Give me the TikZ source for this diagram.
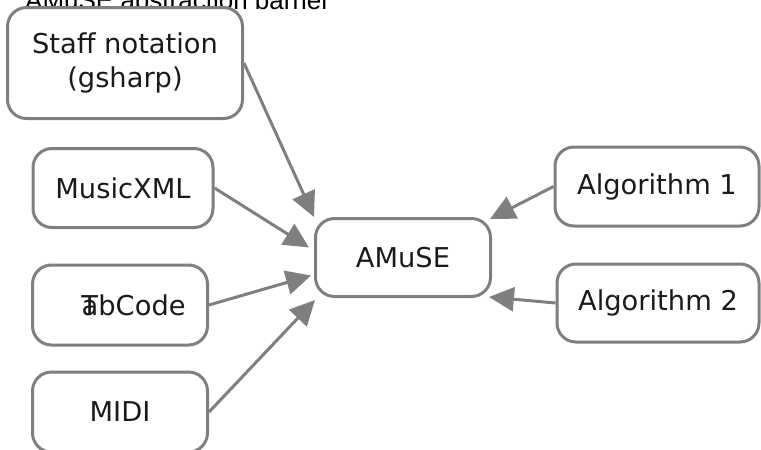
\documentclass[tikz,border=0pt]{standalone}
\usepackage{fontspec}
\setmainfont{DejaVu Sans}
\newfontfamily\titlefont{Liberation Sans}
\usetikzlibrary{arrows.meta}
\definecolor{edgegray}{HTML}{7F7F7F}
\definecolor{inkgray}{HTML}{1A1A1A}
\begin{document}
\begin{tikzpicture}[x=1pt,y=-1pt,
  box/.style={draw=edgegray, line width=3pt, rounded corners=19pt, fill=white,
    text=inkgray, font=\fontsize{27.3}{34}\selectfont, align=center, inner sep=0pt},
  link/.style={draw=edgegray, line width=3pt,
    -{Triangle[length=25pt,width=24pt]}}]
  \useasboundingbox (0,0) rectangle (761,450);
  \clip (0,0) rectangle (761,450);

  % heading, partly above the page edge
  \node[anchor=base west, inner sep=0pt, font=\titlefont\fontsize{26}{30}\selectfont, text=black]
    (title) at (25,9) {AMuSE abstraction barrier};

  % input formats
  \node[box, minimum width=235pt, minimum height=111pt] (staff) at (125,63)
    {Staff notation\\(gsharp)};
  \node[box, minimum width=180pt, minimum height=79pt] (musicxml) at (123,188) {MusicXML};
  \node[box, minimum width=175pt, minimum height=80pt] (tabcode) at (120,305)
    {\hspace*{27pt}T\kern-0.6em abCode};
  \node[box, minimum width=175pt, minimum height=80pt] (midi) at (120,412) {MIDI};

  % core
  \node[box, minimum width=175pt, minimum height=78pt] (amuse) at (403,257.5) {AMuSE};

  % algorithms
  \node[box, minimum width=204pt, minimum height=79pt] (alg1) at (657,186.5) {Algorithm 1};
  \node[box, minimum width=202pt, minimum height=78pt] (alg2) at (658,303) {Algorithm 2};

  % connectors into the core
  \draw[link] (staff.east) -- (amuse.north west);
  \draw[link] (musicxml.east) -- ([shift={(-5,-10)}]amuse.west);
  \draw[link] (tabcode.east) -- ([shift={(-3,18)}]amuse.west);
  \draw[link] (midi.east) -- ([shift={(1,2)}]amuse.south west);
  \draw[link] (alg1.west) -- ([shift={(-2,2)}]amuse.north east);
  \draw[link] (alg2.west) -- ([shift={(-3,-1)}]amuse.south east);
\end{tikzpicture}
\end{document}
